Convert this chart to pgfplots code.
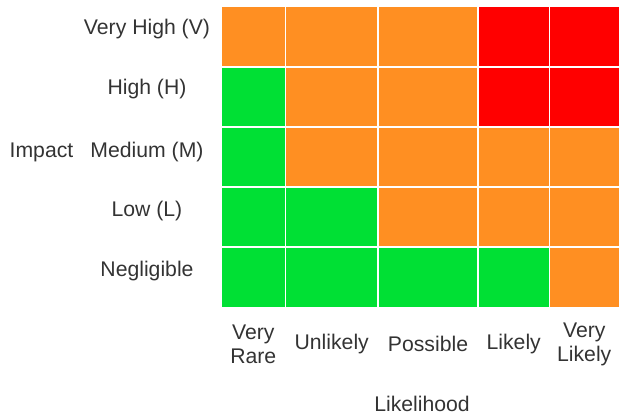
\documentclass[border=0pt]{standalone}
\usepackage{fontspec}
\setmainfont{Liberation Sans}
\usepackage{pgfplots}
\pgfplotsset{compat=1.18}
\definecolor{rO}{RGB}{255,143,34}
\definecolor{rG}{RGB}{0,224,52}
\definecolor{rR}{RGB}{255,0,0}
\definecolor{txt}{RGB}{51,51,51}
\newcommand\ff{\fontsize{21.2bp}{24bp}\selectfont}
\newcommand\cell[5]{\addplot[fill=#1, draw=white, line width=1.6bp] coordinates {(#2,#4) (#3,#4) (#3,#5) (#2,#5)} --cycle;}
\begin{document}
\begin{tikzpicture}
\begin{axis}[
  scale only axis, width=398bp, height=301bp,
  xmin=0, xmax=398, ymin=0, ymax=301,
  enlargelimits=false,
  axis line style={draw=none},
  major tick length=0pt,
  tick style={draw=none},
  xtick={32.25,110.75,207,292.75,363.25},
  xticklabels={{Very\\Rare},Unlikely,Possible,Likely,{Very\\Likely}},
  xticklabel style={align=center, anchor=center, yshift=-36.5bp, text=txt, font=\ff},
  ytick={31,91,149.5,212.5,273},
  yticklabels={Negligible,Low (L),Medium (M),High (H),Very High (V)},
  yticklabel style={anchor=base, xshift=-74bp, text=txt, font=\ff},
  xlabel={Likelihood}, ylabel={Impact},
  every axis x label/.style={at={(axis cs:201,-104.2)}, anchor=base, text=txt, font=\ff},
  every axis y label/.style={at={(axis cs:-179.5,149.5)}, anchor=base, text=txt, font=\ff},
]
% row: Very High
\cell{rO}{0}{64.5}{240.5}{301}
\cell{rO}{64.5}{157}{240.5}{301}
\cell{rO}{157}{257}{240.5}{301}
\cell{rR}{257}{328.5}{240.5}{301}
\cell{rR}{328.5}{402}{240.5}{301}
% row: High
\cell{rG}{0}{64.5}{180.5}{240.5}
\cell{rO}{64.5}{157}{180.5}{240.5}
\cell{rO}{157}{257}{180.5}{240.5}
\cell{rR}{257}{328.5}{180.5}{240.5}
\cell{rR}{328.5}{402}{180.5}{240.5}
% row: Medium
\cell{rG}{0}{64.5}{120.5}{180.5}
\cell{rO}{64.5}{157}{120.5}{180.5}
\cell{rO}{157}{257}{120.5}{180.5}
\cell{rO}{257}{328.5}{120.5}{180.5}
\cell{rO}{328.5}{402}{120.5}{180.5}
% row: Low
\cell{rG}{0}{64.5}{60.5}{120.5}
\cell{rG}{64.5}{157}{60.5}{120.5}
\cell{rO}{157}{257}{60.5}{120.5}
\cell{rO}{257}{328.5}{60.5}{120.5}
\cell{rO}{328.5}{402}{60.5}{120.5}
% row: Negligible
\cell{rG}{0}{64.5}{0}{60.5}
\cell{rG}{64.5}{157}{0}{60.5}
\cell{rG}{157}{257}{0}{60.5}
\cell{rG}{257}{328.5}{0}{60.5}
\cell{rO}{328.5}{402}{0}{60.5}
\end{axis}
\pgfresetboundingbox
\path (-221bp,-111.5bp) rectangle (398bp,307.5bp);
\end{tikzpicture}
\end{document}
